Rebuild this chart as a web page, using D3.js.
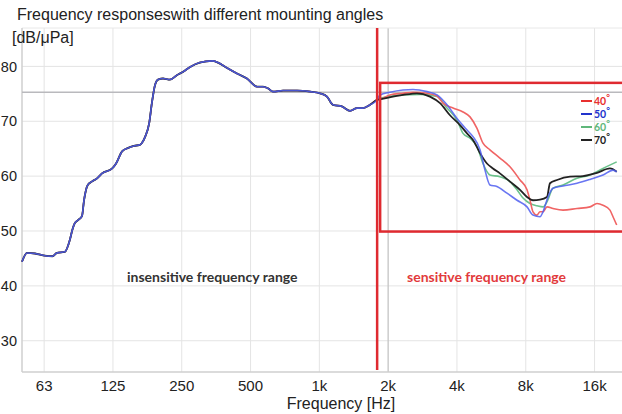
<!DOCTYPE html>
<html>
<head>
<meta charset="utf-8">
<script src="https://cdn.jsdelivr.net/npm/d3@7"></script>
<style>
  html, body { margin: 0; padding: 0; background: #fff; }
  svg { display: block; }
</style>
</head>
<body>
<svg id="chart" width="622" height="414"></svg>
<script>
// ---------- DATA ----------
const xTickValues = [62.5, 125, 250, 500, 1000, 2000, 4000, 8000, 16000];
const xTickLabels = ["63", "125", "250", "500", "1k", "2k", "4k", "8k", "16k"];
const yTickValues = [30, 40, 50, 60, 70, 80];

// shared part of all four curves (insensitive range)
const lowFreq = [50, 52.6, 57, 63, 68, 71, 77, 81, 83, 85, 88, 91.5, 93.4, 97, 101, 106.5, 112, 124, 129, 137, 145, 154, 164, 167, 173, 180, 185, 191, 197, 207, 222, 238, 253, 272, 300, 340, 360, 395, 436, 482, 534, 567, 596, 627, 694, 799, 910, 1006, 1080, 1147, 1256, 1361, 1461, 1552, 1666, 1788];
const lowDb   = [44.4, 46.0, 45.9, 45.5, 45.4, 46.0, 46.2, 48.4, 50.2, 51.4, 52.0, 52.7, 55.6, 58.4, 59.0, 59.6, 60.5, 61.4, 62.3, 64.5, 65.1, 65.5, 65.7, 66.0, 67.2, 69.6, 73.3, 76.6, 77.6, 77.8, 77.6, 78.4, 79.0, 79.9, 80.7, 81.0, 80.7, 79.7, 78.7, 77.8, 76.3, 76.3, 76.0, 75.4, 75.6, 75.6, 75.4, 75.1, 74.5, 73.0, 72.7, 71.9, 72.4, 72.4, 73.0, 73.9];

// sensitive range, per mounting angle
const freq40 = [1842, 2037, 2323, 2569, 2959, 3273, 3476, 3845, 4253, 4563, 4896, 5200, 5576, 6166, 6825, 7552, 8103, 8351, 8605, 8959, 9235, 9520, 9909, 10529, 11641, 13406, 15288, 16400, 17420, 18690, 19270, 20000];
const db40   = [74.0, 74.8, 75.1, 75.3, 75.1, 74.6, 73.3, 72.4, 71.7, 70.8, 68.7, 66.0, 64.8, 63.3, 61.7, 59.3, 57.5, 55.6, 53.5, 52.9, 53.5, 53.5, 54.4, 54.1, 53.8, 54.1, 54.4, 55.0, 54.7, 53.8, 52.6, 51.1];

const freq50 = [1842, 2037, 2323, 2569, 2959, 3273, 3618, 4004, 4427, 4702, 5046, 5305, 5576, 5983, 6622, 7327, 8103, 8605, 9235, 9520, 10010, 10529, 11641, 13406, 15288, 17420, 19270, 20000];
const db50   = [74.8, 75.3, 75.7, 75.8, 75.4, 74.8, 73.0, 70.5, 68.4, 67.2, 64.8, 61.1, 58.4, 58.1, 56.9, 55.6, 54.4, 52.9, 52.6, 53.5, 56.2, 57.8, 58.2, 58.7, 59.4, 60.2, 61.1, 60.8];

const freq60 = [1842, 2323, 2757, 3273, 3618, 4004, 4253, 4563, 4896, 5200, 5576, 6166, 6825, 7327, 7783, 8351, 8959, 9520, 9909, 10529, 11641, 13406, 15288, 17420, 20000];
const db60   = [74.2, 74.8, 74.9, 74.5, 72.4, 70.2, 67.8, 66.9, 65.4, 62.3, 60.2, 59.9, 59.0, 57.5, 56.0, 55.0, 54.6, 54.4, 55.3, 57.8, 58.4, 59.6, 60.2, 61.4, 62.6];

const freq70 = [1842, 2323, 2674, 3048, 3373, 3730, 4125, 4427, 4702, 5046, 5412, 5748, 6166, 6825, 7552, 8103, 8605, 9235, 9909, 10212, 10961, 12500, 14241, 16400, 18690, 20000];
const db70   = [74.0, 74.8, 75.1, 74.5, 73.3, 71.1, 69.3, 67.8, 66.6, 64.2, 62.3, 61.4, 60.5, 59.0, 57.5, 56.2, 55.6, 55.7, 56.2, 58.7, 59.3, 59.9, 60.0, 60.6, 61.4, 60.8];

const seriesNames = ["40", "50", "60", "70"];

// annotations (data units)
const referenceDb = 75.3;
const boundaryFreq = 1790;
const boxFreqStart = 1845, boxDbTop = 77.0, boxDbBottom = 49.9;

// ---------- STYLE ----------
const lineColors   = {"40": "#f06464", "50": "#4f5ef0", "60": "#6cc28c", "70": "#222222"};
const legendColors = {"40": "#e8302f", "50": "#2233cc", "60": "#5fb77a", "70": "#222222"};
const annotRed = "#df2a30";

// ---------- CHART ----------
const svg = d3.select("#chart");
const x = d3.scaleLog().domain([50, 20000]).range([22, 616.7]);
const y = d3.scaleLinear().domain([24.3, 87]).range([372, 28]);
const pLeft = 22, pRight = 622, pTop = 28, pBottom = 372;

// grid
svg.append("g").selectAll("line").data(yTickValues).join("line")
  .attr("x1", pLeft).attr("x2", pRight)
  .attr("y1", d => y(d)).attr("y2", d => y(d))
  .attr("stroke", "#e4e4e4").attr("stroke-width", 1);
svg.append("g").selectAll("line").data(xTickValues).join("line")
  .attr("x1", d => x(d)).attr("x2", d => x(d))
  .attr("y1", pTop).attr("y2", pBottom)
  .attr("stroke", d => d === 2000 ? "#c4c4c4" : "#e4e4e4").attr("stroke-width", d => d === 2000 ? 1.3 : 1);

// frame lines
svg.append("line").attr("x1", pLeft).attr("x2", pRight).attr("y1", pTop).attr("y2", pTop)
  .attr("stroke", "#e8e8e8");
svg.append("line").attr("x1", pLeft).attr("x2", pLeft).attr("y1", pTop).attr("y2", pBottom)
  .attr("stroke", "#cfcfcf").attr("stroke-width", 1.5);
svg.append("line").attr("x1", pLeft).attr("x2", pRight).attr("y1", pBottom).attr("y2", pBottom)
  .attr("stroke", "#cfcfcf").attr("stroke-width", 1.5);

// reference line
svg.append("line").attr("x1", pLeft).attr("x2", pRight)
  .attr("y1", y(referenceDb)).attr("y2", y(referenceDb))
  .attr("stroke", "#b9b9bd").attr("stroke-width", 1.6);

// curves
const line = d3.line().x(d => x(d[0])).y(d => y(d[1])).curve(d3.curveMonotoneX);
const build = (fs, vs) => lowFreq.map((f, i) => [f, lowDb[i]]).concat(fs.map((f, i) => [f, vs[i]]));
const series = {
  "40": build(freq40, db40),
  "50": build(freq50, db50),
  "60": build(freq60, db60),
  "70": build(freq70, db70)
};
["60", "40", "70", "50"].forEach(k => {
  svg.append("path").datum(series[k]).attr("d", line)
    .attr("fill", "none").attr("stroke", lineColors[k])
    .attr("stroke-width", k === "70" ? 1.8 : 1.6)
    .attr("stroke-linejoin", "round")
    .attr("opacity", k === "50" ? 0.85 : 1);
});

// red annotations
svg.append("line").attr("x1", x(boundaryFreq)).attr("x2", x(boundaryFreq))
  .attr("y1", pTop).attr("y2", 370)
  .attr("stroke", annotRed).attr("stroke-width", 2.5);
svg.append("rect").attr("x", x(boxFreqStart)).attr("y", y(boxDbTop))
  .attr("width", 640 - x(boxFreqStart)).attr("height", y(boxDbBottom) - y(boxDbTop))
  .attr("fill", "none").attr("stroke", annotRed).attr("stroke-width", 2.5);

// legend
const lg = svg.append("g");
seriesNames.forEach((k, i) => {
  const ly = 101 + i * 13;
  lg.append("line").attr("x1", 581).attr("x2", 592).attr("y1", ly).attr("y2", ly)
    .attr("stroke", legendColors[k]).attr("stroke-width", 2);
  const t = lg.append("text").attr("x", 594).attr("y", ly + 3.8)
    .attr("fill", legendColors[k]).attr("font-family", "Lato, 'Open Sans', sans-serif")
    .attr("font-weight", "bold").attr("font-size", 10.5);
  t.append("tspan").text(k);
  t.append("tspan").attr("dy", -3.5).attr("font-size", 9).text("°");
});

// region labels
svg.append("text").attr("x", 127).attr("y", 282)
  .attr("font-family", "Lato, 'Open Sans', sans-serif").attr("font-weight", "bold")
  .attr("font-size", 14).attr("fill", "#333").text("insensitive frequency range");
svg.append("text").attr("x", 407).attr("y", 282)
  .attr("font-family", "Lato, 'Open Sans', sans-serif").attr("font-weight", "bold")
  .attr("font-size", 14).attr("fill", "#e23a3c").text("sensitive frequency range");

// axes labels
const font = "'Liberation Sans', Arial, sans-serif";
svg.append("g").selectAll("text").data(yTickValues).join("text")
  .attr("x", 17).attr("y", d => y(d)).attr("dy", "0.36em")
  .attr("text-anchor", "end").attr("font-family", font).attr("font-size", 14.5)
  .attr("fill", "#222").text(d => d);
svg.append("g").selectAll("text").data(xTickValues).join("text")
  .attr("x", d => x(d)).attr("y", 391)
  .attr("text-anchor", "middle").attr("font-family", font).attr("font-size", 15)
  .attr("fill", "#222").text((d, i) => xTickLabels[i]);
svg.append("text").attr("x", 341).attr("y", 409).attr("text-anchor", "middle")
  .attr("font-family", font).attr("font-size", 16).attr("fill", "#222").text("Frequency [Hz]");
svg.append("text").attr("x", 12).attr("y", 43)
  .attr("font-family", font).attr("font-size", 16).attr("fill", "#222").text("[dB/μPa]");
svg.append("text").attr("x", 17).attr("y", 20)
  .attr("font-family", font).attr("font-size", 16).attr("fill", "#222")
  .text("Frequency responseswith different mounting angles");
</script>
</body>
</html>
